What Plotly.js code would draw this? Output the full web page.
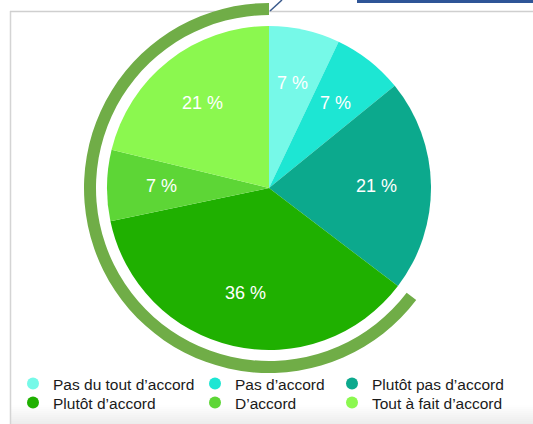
<!DOCTYPE html>
<html>
<head>
<meta charset="utf-8">
<script src="https://cdn.plot.ly/plotly-3.0.1.min.js"></script>
<style>
html,body{margin:0;padding:0;background:#fff;}
#chart{width:533px;height:424px;}
</style>
</head>
<body>
<div id="chart"></div>
<script>
// Data
const categories = ["Pas du tout d’accord", "Pas d’accord", "Plutôt pas d’accord", "Plutôt d’accord", "D’accord", "Tout à fait d’accord"];
const values = [7, 7, 21, 36, 7, 21];
const colors = ["#76F9E8", "#1DE6D3", "#0CA98D", "#1FB000", "#5DD636", "#8BF84F"];
const ringColor = "#70AD47";

const W = 533, H = 424;
const disagreeSum = values.slice(0, 3).reduce((a, b) => a + b, 0);
const agreeSum = values.slice(3).reduce((a, b) => a + b, 0);
const total = values.reduce((a, b) => a + b, 0);

const FONT = "Liberation Sans, Arial, Helvetica, sans-serif";

// Pie geometry (pixels)
const PIE = {cx: 269, cy: 188, r: 162};
const RING = {outer: 185, inner: 173};

const traces = [];

// Outer ring marking the "agree" part
traces.push({
  type: "pie",
  values: [disagreeSum, agreeSum],
  labels: ["disagree", "agree"],
  marker: {colors: ["rgba(0,0,0,0)", ringColor], line: {width: 0}},
  hole: RING.inner / RING.outer,
  sort: false,
  direction: "clockwise",
  rotation: 0,
  textinfo: "none",
  hoverinfo: "skip",
  showlegend: false,
  domain: {x: [(PIE.cx - RING.outer) / W, (PIE.cx + RING.outer) / W],
           y: [(H - PIE.cy - RING.outer) / H, (H - PIE.cy + RING.outer) / H]}
});

// Main pie
traces.push({
  type: "pie",
  values: values,
  labels: categories,
  marker: {colors: colors, line: {width: 0}},
  sort: false,
  direction: "clockwise",
  rotation: 0,
  textinfo: "none",
  hoverinfo: "label+value",
  showlegend: false,
  domain: {x: [(PIE.cx - PIE.r) / W, (PIE.cx + PIE.r) / W],
           y: [(H - PIE.cy - PIE.r) / H, (H - PIE.cy + PIE.r) / H]}
});

// Slice labels placed along each slice bisector at 2/3 of the radius
const annotations = [];
let cum = 0;
values.forEach((v) => {
  const mid = (cum + v / 2) / total * 2 * Math.PI;
  cum += v;
  const d = PIE.r * 2 / 3;
  annotations.push({
    xref: "paper", yref: "paper",
    x: (PIE.cx + d * Math.sin(mid)) / W,
    y: (H - PIE.cy + d * Math.cos(mid)) / H,
    xanchor: "center", yanchor: "middle",
    text: v + " %",
    showarrow: false,
    font: {family: FONT, size: 18, color: "#ffffff"}
  });
});

// Legend entries: one legend per entry, laid out in a 3x2 grid
const legendX = [13, 195, 332];
const legendY = [384, 403];
const layoutLegends = {};
categories.forEach((c, i) => {
  const key = i === 0 ? "legend" : "legend" + (i + 1);
  traces.push({
    type: "scatter",
    mode: "markers",
    x: [null], y: [null],
    name: c,
    legend: key,
    marker: {color: colors[i], size: 12, symbol: "circle"},
    hoverinfo: "skip",
    showlegend: true
  });
  layoutLegends[key] = {
    orientation: "v",
    xanchor: "left", yanchor: "middle",
    x: legendX[i % 3] / W,
    y: (H - legendY[Math.floor(i / 3)]) / H,
    bgcolor: "rgba(0,0,0,0)",
    borderwidth: 0,
    font: {family: FONT, size: 15.5, color: "#1a1a1a"},
    itemclick: false
  };
});

// bottom gradient of the card
const gradShapes = [];
for (let k = 0; k < 10; k++) {
  const g = Math.round(254 - k * 2);
  gradShapes.push({type: "rect", xref: "paper", yref: "paper",
    x0: 11 / W, x1: 1, y0: (H - 405 - k * 2 - 2) / H, y1: (H - 405 - k * 2) / H,
    fillcolor: "rgb(" + g + "," + g + "," + g + ")", line: {width: 0}, layer: "below"});
}

const layout = Object.assign({
  width: W, height: H,
  margin: {l: 0, r: 0, t: 0, b: 0},
  paper_bgcolor: "#ffffff",
  plot_bgcolor: "rgba(0,0,0,0)",
  showlegend: true,
  xaxis: {visible: false, range: [0, 1]},
  yaxis: {visible: false, range: [0, 1]},
  annotations: annotations,
  shapes: gradShapes.concat([
    // card border (left + top)
    {type: "line", xref: "paper", yref: "paper", x0: 10.5 / W, x1: 10.5 / W, y0: 0, y1: (H - 11) / H, line: {color: "#d4d4d4", width: 1.5}, layer: "below"},
    {type: "line", xref: "paper", yref: "paper", x0: 10 / W, x1: 1, y0: (H - 11.5) / H, y1: (H - 11.5) / H, line: {color: "#cfcfcf", width: 1.5}, layer: "below"},
    // top-right blue frame fragment
    {type: "line", xref: "paper", yref: "paper", x0: 357 / W, x1: 1, y0: (H - 1.5) / H, y1: (H - 1.5) / H, line: {color: "#2F5597", width: 3}, layer: "below"},
    // small connector line
    {type: "line", xref: "paper", yref: "paper", x0: 270 / W, x1: 282 / W, y0: (H - 11) / H, y1: H / H, line: {color: "#3A5A8C", width: 1.5}, layer: "below"}
  ])
}, layoutLegends);

Plotly.newPlot("chart", traces, layout, {displayModeBar: false, staticPlot: true});
</script>
</body>
</html>
